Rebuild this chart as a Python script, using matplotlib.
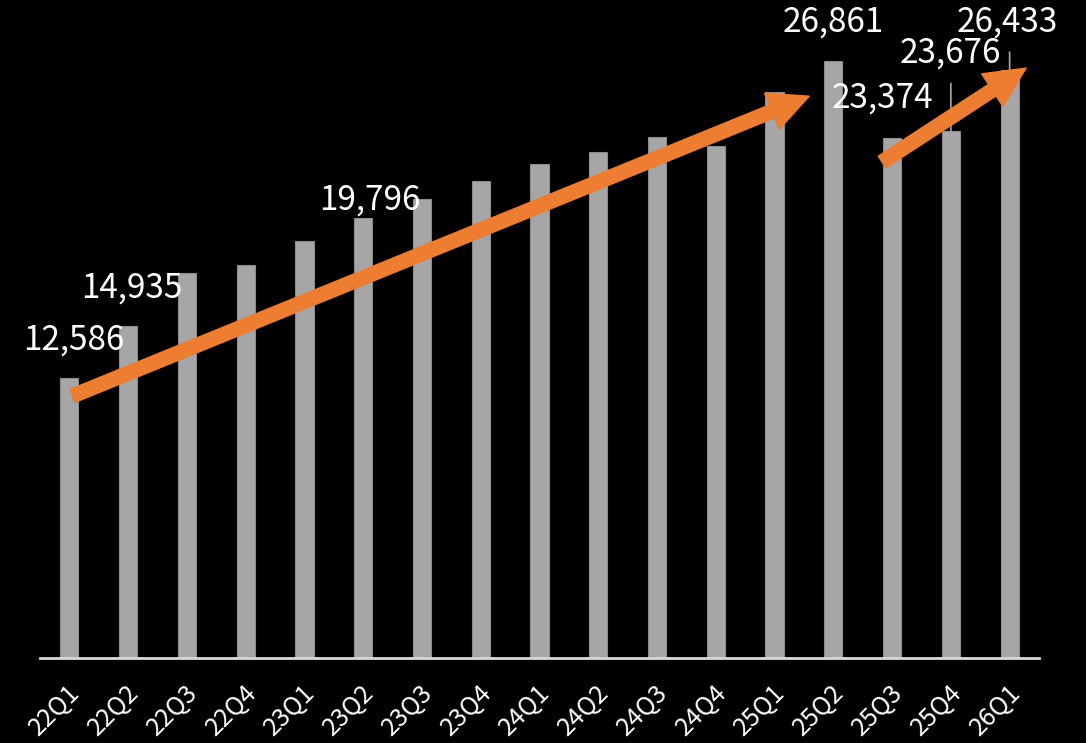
import matplotlib
matplotlib.use("Agg")
import matplotlib.pyplot as plt
from matplotlib.transforms import ScaledTranslation

plt.rcParams['font.family'] = ['Noto Sans CJK TC', 'DejaVu Sans']

quarters = ["22Q1", "22Q2", "22Q3", "22Q4", "23Q1", "23Q2", "23Q3", "23Q4",
            "24Q1", "24Q2", "24Q3", "24Q4", "25Q1", "25Q2", "25Q3", "25Q4", "26Q1"]
values = [12586, 14935, 17300, 17660, 18740, 19796, 20630, 21440,
          22200, 22750, 23420, 23010, 25440, 26861, 23374, 23676, 26433]

# labelled bars and label placement (px offsets from bar top)
label_idx = [0, 1, 5, 13, 14, 15, 16]
label_dx = [4, 4, 7, 0, -10, -1, -2]
label_dy = [38, 38, 18, 38, 40, 78, 48]
leader = [False, False, False, False, False, True, True]

# trend arrows (category index, value)
arrow_tails = [(0.05, 11780), (13.83, 22300)]
arrow_tips = [(12.59, 25260), (16.28, 26520)]

W, H = 1086, 743
fig = plt.figure(figsize=(W / 100, H / 100), dpi=100, facecolor='black')
ax = fig.add_axes([40 / W, 1 - 658 / H, 999 / W, (658 - 13) / H])
ax.set_facecolor('black')

x = list(range(len(quarters)))
ax.bar(x, values, width=0.31, color='#a6a6a6', edgecolor='#8c8c8c', linewidth=0.8, zorder=2)

ax.set_xlim(-0.5, len(quarters) - 0.5)
ax.set_ylim(0, 29000)
for s in ['top', 'right', 'left']:
    ax.spines[s].set_visible(False)
ax.spines['bottom'].set_color('#d9d9d9')
ax.spines['bottom'].set_linewidth(2)
ax.set_yticks([])
ax.set_xticks(x)
ax.set_xticklabels(quarters, rotation=45, ha='right', va='center',
                   rotation_mode='anchor', color='white', fontsize=18)
ax.tick_params(axis='x', length=0, pad=22)
shift = ScaledTranslation(7 / 100, 0, fig.dpi_scale_trans)
for lab in ax.get_xticklabels():
    lab.set_transform(lab.get_transform() + shift)

px = 72 / 100  # points per pixel
for k, i in enumerate(label_idx):
    v = values[i]
    ax.annotate(f"{v:,}", xy=(i, v), xytext=(label_dx[k] * px, label_dy[k] * px),
                textcoords='offset points', ha='center', va='center',
                color='white', fontsize=24, zorder=5)
    if leader[k]:
        top_off = (label_dy[k] - 30) * px
        ax.annotate('', xy=(i, v), xytext=(0, top_off), textcoords='offset points',
                    arrowprops=dict(arrowstyle='-', color='#a6a6a6', lw=1.2,
                                    shrinkA=0, shrinkB=0), zorder=3)

for tail, tip in zip(arrow_tails, arrow_tips):
    ax.annotate('', xy=tip, xytext=tail,
                arrowprops=dict(arrowstyle='simple,head_width=2.8,head_length=2.9,tail_width=1.0',
                                mutation_scale=10, color='#ed7d31', shrinkA=0, shrinkB=0),
                zorder=4)

fig.savefig('out.png', dpi=100, facecolor='black')
